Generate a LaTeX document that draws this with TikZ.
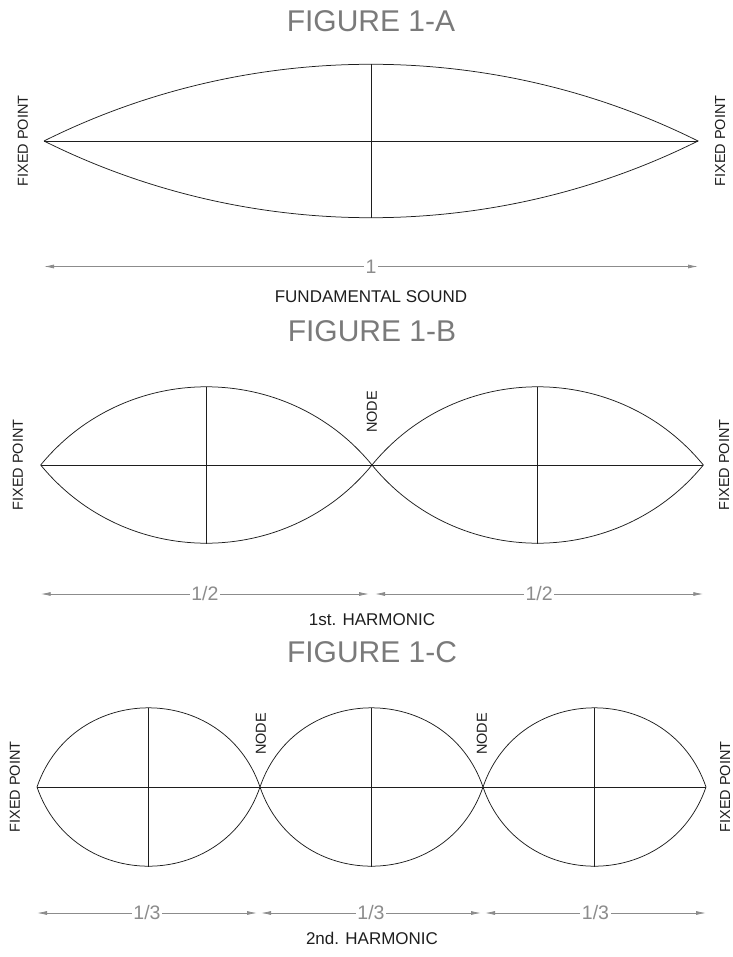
\documentclass[tikz,border=0pt]{standalone}
\usepackage{fontspec}
\setmainfont{Liberation Sans}
\usepackage{tikz}
\usetikzlibrary{arrows.meta,calc,positioning}

\definecolor{titlegray}{HTML}{7A7A7A}
\definecolor{dimgray}{HTML}{8C8C8C}
\definecolor{inkgray}{HTML}{1E1E1E}

\tikzset{
  curve/.style={draw=inkgray, line width=0.75pt},
  axis/.style={draw=inkgray, line width=0.85pt},
  dim/.style={draw=dimgray, line width=0.8pt,
    {Latex[length=10pt,width=4pt]}-{Latex[length=10pt,width=4pt]}},
  dimlabel/.style={fill=white, text=dimgray, inner sep=1.5pt,
    font=\fontsize{19.5}{19.5}\selectfont},
  title/.style={anchor=base, text=titlegray, font=\fontsize{30}{30}\selectfont},
  caption/.style={anchor=base, text=inkgray, font=\fontsize{17}{17}\selectfont},
  side/.style={rotate=90, inner sep=0pt, text=inkgray, font=\fontsize{14.5}{14.5}\selectfont},
}

\begin{document}
\begin{tikzpicture}[x=1pt,y=1pt]
    \useasboundingbox (0,0) rectangle (732,-957);

    % figure 1-A
    \node[title] (titleA) at (371,-31.5) {FIGURE 1-A};
    \coordinate (a0) at (44,-141);
    \coordinate (a1) at (698,-141);
    \coordinate (atop) at (371,-64);
    \coordinate (abot) at (371,-218);
    \draw[curve] (a0) to[bend left=26.5, looseness=0.899] (a1)
                      to[bend left=26.5, looseness=0.899] (a0);
    \draw[axis] (a0) -- (a1);
    \draw[axis] (atop) -- (abot);
    \node[side] (fixA0) at (23,-141) {FIXED POINT};
    \node[side] (fixA1) at (720,-141) {FIXED POINT};
    \coordinate (da0) at (44,-266.5);
    \coordinate (da1) at (698,-266.5);
    \draw[dim] (da0) -- (da1) node[midway, dimlabel] (lenA) {1};
    \node[caption] (capA) at (371,-302) {FUNDAMENTAL SOUND};

    % figure 1-B
    \node[title] (titleB) at (372,-341) {FIGURE 1-B};
    \coordinate (b0) at (40.7,-465);
    \coordinate (b1) at (372,-465);
    \coordinate (b2) at (703.3,-465);
    \foreach \p/\q in {b0/b1, b1/b2} {
        \draw[curve] (\p) to[bend left=50.7, looseness=1.043] (\q)
                          to[bend left=50.7, looseness=1.043] (\p);
        \draw[axis] ($(\p)!0.5!(\q)+(0,78.5)$) -- ($(\p)!0.5!(\q)-(0,78.5)$);
    }
    \draw[axis] (b0) -- (b2);
    \node[side] (nodeB) at (372,-412) {NODE};
    \node[side] (fixB0) at (18,-465) {FIXED POINT};
    \node[side] (fixB1) at (724,-465) {FIXED POINT};
    \coordinate (db0) at (40.7,-594);
    \coordinate (db1) at (369,-594);
    \coordinate (db2) at (375,-594);
    \coordinate (db3) at (703.3,-594);
    \draw[dim] (db0) -- (db1) node[midway, dimlabel] (lenB1) {1/2};
    \draw[dim] (db2) -- (db3) node[midway, dimlabel] (lenB2) {1/2};
    \node[caption] (capB) at (372,-625) {1st. HARMONIC};

    % figure 1-C
    \node[title] (titleC) at (372,-662) {FIGURE 1-C};
    \coordinate (c0) at (37,-787);
    \coordinate (c1) at (260,-787);
    \coordinate (c2) at (483,-787);
    \coordinate (c3) at (706,-787);
    \foreach \p/\q in {c0/c1, c1/c2, c2/c3} {
        \draw[curve] (\p) to[bend left=71, looseness=1.284] (\q)
                          to[bend left=71, looseness=1.284] (\p);
        \draw[axis] ($(\p)!0.5!(\q)+(0,79.5)$) -- ($(\p)!0.5!(\q)-(0,79.5)$);
    }
    \draw[axis] (c0) -- (c3);
    \node[side] (nodeC1) at (261,-734) {NODE};
    \node[side] (nodeC2) at (482,-734) {NODE};
    \node[side] (fixC0) at (15,-787) {FIXED POINT};
    \node[side] (fixC1) at (725,-787) {FIXED POINT};
    \coordinate (dc0) at (37,-913);
    \coordinate (dc1) at (257,-913);
    \coordinate (dc2) at (261,-913);
    \coordinate (dc3) at (481,-913);
    \coordinate (dc4) at (485,-913);
    \coordinate (dc5) at (706,-913);
    \draw[dim] (dc0) -- (dc1) node[midway, dimlabel] (lenC1) {1/3};
    \draw[dim] (dc2) -- (dc3) node[midway, dimlabel] (lenC2) {1/3};
    \draw[dim] (dc4) -- (dc5) node[midway, dimlabel] (lenC3) {1/3};
    \node[caption] (capC) at (372,-944) {2nd. HARMONIC};
\end{tikzpicture}
\end{document}
